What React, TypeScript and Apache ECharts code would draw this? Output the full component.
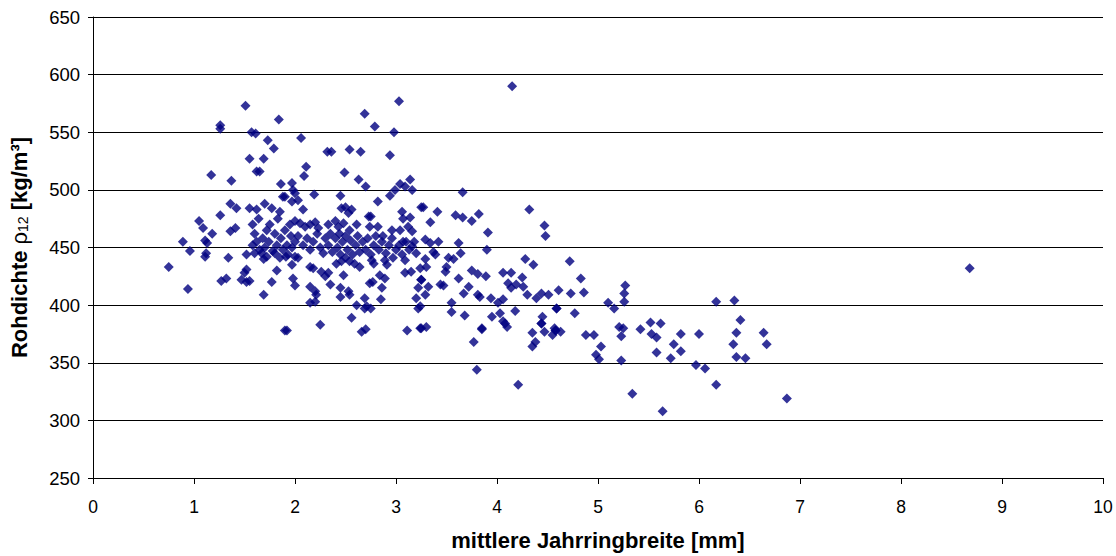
import React, { useEffect, useRef } from "react";
import * as echarts from "echarts";

const xTicks = [0, 10, 1];
const yTicks = [250, 650, 50];

// [mittlere Jahrringbreite mm, Rohdichte kg/m³]
const leftPoints: number[][] = [
  [0.75, 433], [0.89, 455], [0.94, 414], [0.96, 447], [1.05, 473], [1.09, 467], [1.11, 456], [1.13, 454],
  [1.12, 445], [1.11, 442], [1.17, 513], [1.18, 462], [1.26, 478], [1.26, 556], [1.26, 553], [1.27, 421],
  [1.32, 423], [1.34, 441], [1.36, 488], [1.36, 464], [1.37, 508], [1.41, 467], [1.42, 484], [1.47, 422],
  [1.52, 431], [1.50, 428], [1.55, 421], [1.52, 420], [1.51, 573], [1.52, 444], [1.55, 484], [1.55, 527],
  [1.57, 550], [1.61, 549], [1.62, 516], [1.65, 516], [1.62, 483], [1.69, 527], [1.70, 488], [1.73, 543],
  [1.77, 484], [1.79, 536], [1.84, 561], [1.85, 481], [1.86, 505], [1.88, 494], [1.69, 440], [1.82, 430],
  [1.77, 420], [1.69, 409], [1.85, 441], [1.91, 442], [1.90, 378],
  [1.58, 470], [1.60, 462], [1.62, 455], [1.65, 448], [1.64, 475], [1.68, 458], [1.70, 450], [1.72, 465],
  [1.75, 470], [1.74, 455], [1.78, 447], [1.80, 462], [1.82, 452], [1.83, 475], [1.86, 458], [1.88, 448],
  [1.90, 465], [1.92, 452], [1.93, 444], [1.95, 470], [1.96, 460], [1.97, 450], [1.58, 452], [1.60, 445],
  [1.67, 445], [1.72, 442], [1.80, 445],
];

const clusterPoints: number[][] = [
  [3.03, 577], [2.69, 566], [2.79, 555], [2.98, 550], [2.06, 545], [2.32, 533], [2.36, 533], [2.54, 535],
  [2.65, 533], [2.94, 530], [2.11, 520], [2.09, 512], [2.49, 515], [2.63, 509], [2.70, 503], [1.97, 506],
  [1.98, 500], [2.00, 497], [3.14, 509], [3.04, 505], [3.09, 503], [3.16, 500], [2.99, 500], [2.19, 496],
  [2.45, 495], [2.82, 490], [2.94, 495], [1.90, 494], [1.97, 490], [2.03, 491], [2.08, 483], [2.46, 484],
  [2.50, 485], [2.56, 483], [2.53, 480], [2.73, 477], [2.75, 477], [3.06, 481], [3.07, 475], [3.14, 476],
  [3.25, 485], [2.00, 473], [2.05, 471], [2.10, 468], [2.15, 470], [2.20, 472], [2.23, 467], [2.33, 470],
  [2.40, 473], [2.43, 468], [2.48, 471], [2.54, 465], [2.61, 470], [2.74, 468], [2.82, 468], [2.87, 460],
  [2.96, 465], [3.04, 465], [3.12, 468], [3.16, 464], [3.07, 455], [3.16, 451],
  [2.00, 455], [2.03, 460], [2.08, 452], [2.12, 458], [2.15, 448], [2.18, 455], [2.22, 462], [2.25, 450],
  [2.28, 445], [2.30, 458], [2.33, 452], [2.35, 462], [2.37, 446], [2.40, 458], [2.42, 450], [2.44, 462],
  [2.45, 444], [2.47, 455], [2.50, 460], [2.52, 448], [2.55, 456], [2.57, 444], [2.60, 452], [2.62, 460],
  [2.64, 446], [2.67, 455], [2.70, 448], [2.72, 458], [2.75, 444], [2.78, 452], [2.80, 460], [2.83, 448],
  [2.86, 455], [2.90, 445], [2.93, 452], [2.96, 458], [3.00, 448], [3.03, 452], [3.06, 444], [3.10, 455],
  [3.13, 448], [3.18, 455], [3.20, 445],
  [2.00, 442], [2.03, 441], [1.97, 435], [2.15, 433], [2.18, 432], [2.26, 429], [2.30, 425], [2.33, 428],
  [2.35, 418], [1.98, 423], [2.00, 417], [2.15, 416], [2.20, 412], [2.21, 409], [2.15, 402], [2.20, 403],
  [2.41, 436], [2.46, 438], [2.50, 441], [2.54, 438], [2.59, 436], [2.64, 433], [2.48, 426], [2.45, 415],
  [2.45, 407], [2.53, 412], [2.54, 409], [2.61, 400], [2.69, 406], [2.71, 399], [2.75, 397], [2.69, 397],
  [2.56, 389], [2.25, 383], [2.66, 377], [2.70, 379], [1.92, 378], [2.74, 419], [2.77, 420], [2.84, 426],
  [2.89, 423], [2.86, 415], [2.85, 405], [2.97, 441], [3.09, 439], [3.09, 428], [3.15, 429], [3.24, 432],
  [3.25, 422], [3.22, 415], [3.20, 406], [3.22, 397], [3.24, 380], [3.11, 378], [2.76, 439], [2.78, 436],
  [2.89, 439], [2.91, 435],
];

const rightPoints: number[][] = [
  [3.66, 498], [3.27, 485], [3.41, 481], [3.34, 472], [3.59, 478], [3.66, 476], [3.75, 473], [3.82, 479],
  [4.32, 483], [4.47, 469], [4.48, 460], [3.91, 463], [3.29, 457], [3.34, 454], [3.42, 455], [3.37, 446],
  [3.39, 444], [3.62, 454], [3.64, 445], [3.90, 448], [3.29, 440], [3.52, 441], [3.57, 440], [3.50, 433],
  [3.49, 429], [4.28, 440], [4.36, 435], [3.75, 430], [3.81, 427], [3.89, 425], [4.06, 428], [4.14, 428],
  [4.25, 424], [3.62, 423], [3.25, 422], [3.30, 433], [4.11, 419], [4.14, 415], [4.19, 418], [4.26, 416],
  [3.44, 418], [3.47, 417], [3.32, 416], [3.29, 409], [3.72, 416], [3.67, 410], [3.81, 409], [3.83, 407],
  [3.94, 406], [4.06, 405], [4.01, 402], [4.03, 393], [4.30, 409], [4.39, 406], [4.44, 410], [4.51, 409],
  [4.18, 395], [3.24, 399], [3.55, 402], [3.55, 394], [3.68, 391], [3.95, 390], [3.85, 380], [4.08, 384],
  [4.45, 390], [4.44, 384], [4.57, 380], [4.59, 397],
  [3.30, 381], [3.25, 380], [3.85, 379], [3.77, 368], [3.80, 344], [4.21, 331], [4.06, 386], [4.10, 381],
  [4.44, 384], [4.47, 377], [4.35, 376], [4.38, 368], [4.35, 364], [4.55, 374], [4.58, 378],
  [4.15, 590],
  [4.72, 438], [4.83, 423], [4.61, 413], [4.73, 410], [4.86, 411], [4.59, 397], [4.77, 393], [4.58, 378],
  [4.63, 377], [4.88, 374], [4.96, 374], [5.03, 364], [4.98, 357], [5.01, 353], [5.10, 402], [5.16, 397],
  [5.27, 417], [5.26, 410], [5.26, 403], [5.21, 381], [5.25, 380], [5.23, 373], [5.23, 352], [5.34, 323],
  [5.42, 379], [5.52, 385], [5.62, 384], [5.53, 375], [5.58, 372], [5.58, 359], [5.64, 308], [5.75, 366],
  [5.82, 360], [5.72, 354], [5.82, 375], [6.00, 375], [5.97, 348], [6.06, 345], [6.17, 331], [6.17, 403],
  [6.35, 404], [6.41, 387], [6.37, 376], [6.34, 366], [6.37, 355], [6.46, 354], [6.64, 376], [6.67, 366],
  [6.87, 319], [8.68, 432],
];

const allPoints = [...leftPoints, ...clusterPoints, ...rightPoints];

export default function App() {
  const ref = useRef<HTMLDivElement>(null);
  useEffect(() => {
    if (!ref.current) return;
    const chart = echarts.init(ref.current, null, { renderer: "svg" });
    const font = "'Liberation Sans', Arial, sans-serif";
    chart.setOption({
      animation: false,
      backgroundColor: "#ffffff",
      grid: { left: 93, right: 13, top: 17, bottom: 78, containLabel: false },
      xAxis: {
        type: "value",
        min: xTicks[0],
        max: xTicks[1],
        interval: xTicks[2],
        name: "mittlere Jahrringbreite [mm]",
        nameLocation: "middle",
        nameGap: 51,
        nameTextStyle: { fontFamily: font, fontSize: 22, fontWeight: "bold", color: "#000" },
        axisLine: { show: true, lineStyle: { color: "#000", width: 1 } },
        axisTick: { show: true, length: 6, lineStyle: { color: "#000" } },
        axisLabel: { fontFamily: font, fontSize: 17.5, color: "#000", margin: 20 },
        splitLine: { show: false },
      },
      yAxis: {
        type: "value",
        min: yTicks[0],
        max: yTicks[1],
        interval: yTicks[2],
        name: "{b|Rohdichte }{n|ρ}{s|12}{b| [kg/m³]}",
        nameLocation: "middle",
        nameGap: 63,
        nameRotate: 90,
        nameTextStyle: {
          rich: {
            b: { fontFamily: font, fontSize: 22, fontWeight: "bold", color: "#000" },
            n: { fontFamily: font, fontSize: 22, color: "#000" },
            s: { fontFamily: font, fontSize: 14, color: "#000", verticalAlign: "bottom", padding: [8, 0, 0, 0] },
          },
        },
        axisLine: { show: true, lineStyle: { color: "#000", width: 1 } },
        axisTick: { show: true, length: 5, lineStyle: { color: "#000" } },
        axisLabel: { fontFamily: font, fontSize: 18.5, color: "#000", margin: 13 },
        splitLine: { show: true, lineStyle: { color: "#000", width: 1 } },
      },
      series: [
        {
          type: "scatter",
          data: allPoints,
          symbol: "diamond",
          symbolSize: 10,
          itemStyle: { color: "#000080" },
        },
      ],
    });
    return () => chart.dispose();
  }, []);
  return (
    <div
      ref={ref}
      style={{ position: "fixed", left: 0, top: 0, width: 1116, height: 556, background: "#fff" }}
    />
  );
}
